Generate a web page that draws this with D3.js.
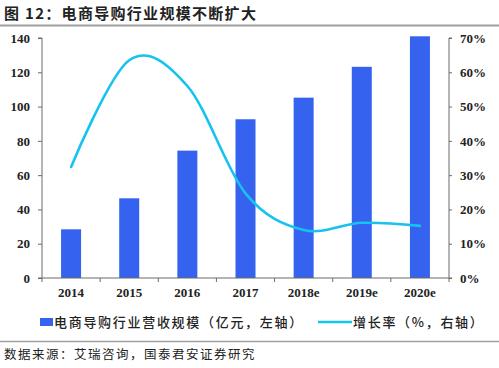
<!DOCTYPE html>
<html><head><meta charset="utf-8">
<script src="https://cdn.jsdelivr.net/npm/d3@7/dist/d3.min.js"></script>
<style>
body{margin:0;background:#fff;}
svg{display:block;}
</style></head>
<body>
<svg id="c" width="499" height="368"></svg>
<script>
const categories = ["2014","2015","2016","2017","2018e","2019e","2020e"];
const revenue = [28.4, 46.5, 74.3, 92.6, 105.2, 123.2, 141];
const growth = [32.4, 63.5, 56, 24.7, 14, 16.1, 15.2];
const leftTicks = [0,20,40,60,80,100,120,140];
const rightTicks = [0,10,20,30,40,50,60,70];
const titleText = "图 12：电商导购行业规模不断扩大";
const legendBar = "电商导购行业营收规模（亿元，左轴）";
const legendLine = "增长率（%，右轴）";
const sourceText = "数据来源：艾瑞咨询，国泰君安证券研究";

const svg = d3.select("#c");
const L = 42, R = 449, T = 38, B = 278;
const serif = "'Liberation Serif','Times New Roman',serif";
const cjk = "'Noto Sans CJK SC',sans-serif";
const axisColor = "#6b6b6b";
const barColor = "#3563F0";
const lineColor = "#15C3EE";

const x = d3.scaleBand().domain(categories).range([L, R]).paddingInner(0).paddingOuter(0);
const yL = d3.scaleLinear().domain([0,140]).range([B, T]);
const yR = d3.scaleLinear().domain([0,70]).range([B, T]);

// title
svg.append("text").attr("x",4).attr("y",19).attr("font-family",cjk).attr("font-weight",700)
  .attr("font-size",15).attr("letter-spacing",1.3).attr("fill","#222").text(titleText);
svg.append("line").attr("x1",0).attr("x2",499).attr("y1",25.5).attr("y2",25.5)
  .attr("stroke","#a0a0a0").attr("stroke-width",2);

// bars
const bw = 20;
svg.append("g").selectAll("rect").data(categories).join("rect")
  .attr("x", d => x(d) + x.bandwidth()/2 - bw/2)
  .attr("y", (d,i) => yL(revenue[i]))
  .attr("width", bw)
  .attr("height", (d,i) => yL(0) - yL(revenue[i]))
  .attr("fill", barColor);

// line
const line = d3.line()
  .x((d,i) => x(categories[i]) + x.bandwidth()/2)
  .y(d => yR(d))
  .curve(d3.curveCatmullRom.alpha(0));
svg.append("path").datum(growth).attr("d", line).attr("fill","none")
  .attr("stroke", lineColor).attr("stroke-width", 2.6).attr("stroke-linecap","round");

// axes
const gL = svg.append("g").attr("transform",`translate(${L},0)`)
  .call(d3.axisLeft(yL).tickValues(leftTicks).tickSize(4).tickPadding(8));
const gR = svg.append("g").attr("transform",`translate(${R},0)`)
  .call(d3.axisRight(yR).tickValues(rightTicks).tickFormat(d => d + "%").tickSize(3).tickPadding(8));
const gX = svg.append("g").attr("transform",`translate(0,${B})`)
  .call(d3.axisBottom(x).tickSize(0).tickPadding(10));
// boundary ticks on x axis
gX.selectAll(".bt").data(d3.range(categories.length+1)).join("line")
  .attr("class","bt")
  .attr("x1", i => L + i*x.step()).attr("x2", i => L + i*x.step())
  .attr("y1",0).attr("y2",4).attr("stroke",axisColor);

[gL,gR,gX].forEach(g => {
  g.select(".domain").attr("stroke",axisColor).attr("stroke-width",1);
  g.selectAll(".tick line").attr("stroke",axisColor);
  g.selectAll("text").attr("font-family",serif).attr("font-weight",700)
    .attr("font-size",13).attr("fill","#222");
});
gL.select(".domain").attr("d",`M-4,${T}H0V${B}H-4`);
gR.select(".domain").attr("d",`M3,${T}H0V${B}H3`);
gX.select(".domain").attr("d",`M${L},0H${R}`);

// legend
svg.append("rect").attr("x",40).attr("y",318).attr("width",13).attr("height",8).attr("fill",barColor);
svg.append("text").attr("x",54).attr("y",327).attr("font-family",cjk).attr("font-weight",500)
  .attr("font-size",13).attr("letter-spacing",1.7).attr("fill","#222").text(legendBar);
svg.append("line").attr("x1",318).attr("x2",352).attr("y1",322).attr("y2",322)
  .attr("stroke",lineColor).attr("stroke-width",2.6);
svg.append("text").attr("x",353).attr("y",327).attr("font-family",cjk).attr("font-weight",500)
  .attr("font-size",13).attr("letter-spacing",1.7).attr("fill","#222").text(legendLine);

// source
svg.append("line").attr("x1",0).attr("x2",499).attr("y1",341.5).attr("y2",341.5)
  .attr("stroke","#a0a0a0").attr("stroke-width",1.5);
svg.append("text").attr("x",4).attr("y",359).attr("font-family",cjk)
  .attr("font-size",12.5).attr("letter-spacing",1.5).attr("fill","#222").text(sourceText);
</script>
</body></html>
